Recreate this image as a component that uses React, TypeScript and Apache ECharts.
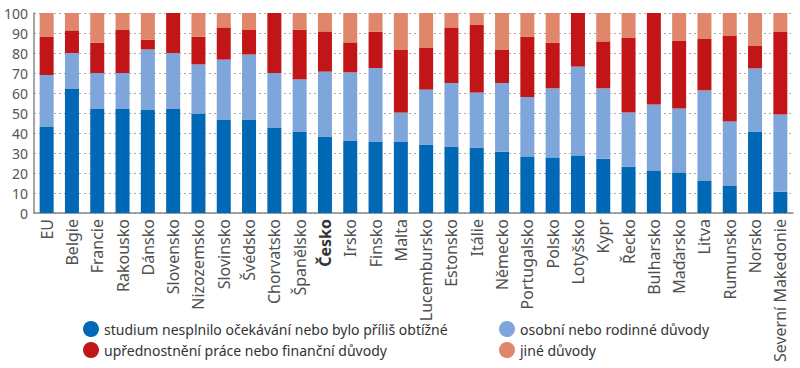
import React, { useEffect, useRef } from "react";
import * as echarts from "echarts";

const categories = ["EU", "Belgie", "Francie", "Rakousko", "Dánsko", "Slovensko", "Nizozemsko", "Slovinsko", "Švédsko", "Chorvatsko", "Španělsko", "Česko", "Irsko", "Finsko", "Malta", "Lucembursko", "Estonsko", "Itálie", "Německo", "Portugalsko", "Polsko", "Lotyšsko", "Kypr", "Řecko", "Bulharsko", "Maďarsko", "Litva", "Rumunsko", "Norsko", "Severní Makedonie"];

const study = [43, 62, 52, 52, 51.5, 52, 49.7, 46.7, 46.7, 42.7, 40.5, 38.2, 36.2, 35.7, 35.5, 34.3, 33.2, 32.8, 30.7, 28.3, 27.8, 28.8, 27.2, 23.2, 21.3, 20.3, 16, 13.8, 40.8, 10.7];
const personal = [26, 18, 18, 18, 30.3, 28, 24.6, 30, 32.5, 27.3, 26.3, 32.5, 34.1, 36.8, 14.7, 27.4, 31.8, 27.5, 34.3, 29.7, 34.5, 44.4, 35.1, 27, 33, 31.9, 45.3, 31.9, 31.5, 38.5];
const work = [19, 11.3, 15.1, 21.5, 4.9, 20, 13.9, 16.1, 12.3, 30, 24.9, 20.1, 15, 18.2, 31.3, 20.8, 27.8, 33.7, 16.5, 30.2, 22.9, 26.8, 23.5, 37.6, 45.7, 34.1, 25.7, 43, 11.2, 41.3];
const other = [12, 8.7, 14.9, 8.5, 13.3, 0, 11.8, 7.2, 8.5, 0, 8.3, 9.2, 14.7, 9.3, 18.5, 17.5, 7.2, 6, 18.5, 11.8, 14.8, 0, 14.2, 12.2, 0, 13.7, 13, 11.3, 16.5, 9.5];

const seriesNames = [
  "studium nesplnilo očekávání nebo bylo příliš obtížné",
  "osobní nebo rodinné důvody",
  "upřednostnění práce nebo finanční důvody",
  "jiné důvody",
];
const colors = ["#0068b4", "#7ea6da", "#c11517", "#df866b"];

const FONT = "Noto Sans";

export default function App() {
  const ref = useRef<HTMLDivElement>(null);
  useEffect(() => {
    if (!ref.current) return;
    const chart = echarts.init(ref.current, undefined, { renderer: "svg" });
    const values = [study, personal, work, other];
    const legendCommon = {
      orient: "vertical",
      top: 316,
      itemGap: 5,
      icon: "circle",
      itemWidth: 16,
      itemHeight: 16,
      textStyle: { fontFamily: FONT, fontSize: 14, color: "#333" },
      selectedMode: false,
    };
    chart.setOption({
      animation: false,
      textStyle: { fontFamily: FONT },
      grid: { left: 34, right: 7, top: 13, bottom: 155, containLabel: false },
      legend: [
        { ...legendCommon, data: [seriesNames[0], seriesNames[2]], left: 78 },
        { ...legendCommon, data: [seriesNames[1], seriesNames[3]], left: 494 },
      ],
      xAxis: {
        type: "category",
        data: categories,
        axisLine: { lineStyle: { color: "#888", width: 1.5 } },
        axisTick: { show: false },
        axisLabel: {
          rotate: 90,
          interval: 0,
          fontSize: 16,
          color: "#505050",
          margin: 6,
          fontFamily: FONT,
          formatter: (v: string) => (v === "Česko" ? "{b|" + v + "}" : v),
          rich: { b: { fontWeight: "bold", fontSize: 16, color: "#333", fontFamily: FONT } },
        },
      },
      yAxis: {
        type: "value",
        min: 0,
        max: 100,
        interval: 10,
        axisLine: { show: true, lineStyle: { color: "#888", width: 1.5 } },
        axisTick: { show: false },
        axisLabel: { fontSize: 14, color: "#555", margin: 6, fontFamily: FONT },
        splitLine: { lineStyle: { color: "#aaa", type: [2, 3], width: 1 } },
      },
      series: values.map((d, i) => ({
        name: seriesNames[i],
        type: "bar",
        stack: "total",
        data: d,
        barWidth: 14,
        itemStyle: { color: colors[i] },
      })),
    });
    return () => chart.dispose();
  }, []);
  return <div ref={ref} style={{ width: 800, height: 368, position: "absolute", left: 0, top: 0 }} />;
}
